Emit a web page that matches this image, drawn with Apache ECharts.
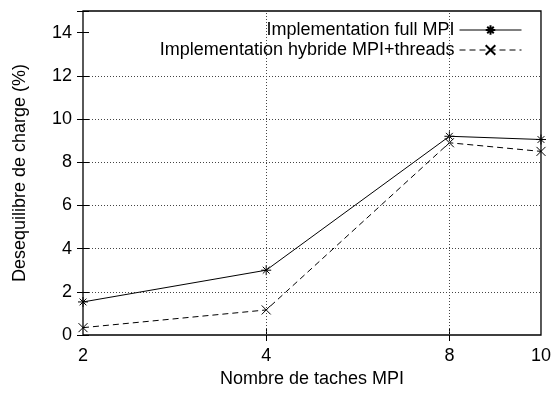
<!DOCTYPE html>
<html>
<head>
<meta charset="utf-8">
<script src="https://cdn.jsdelivr.net/npm/echarts@6/dist/echarts.min.js"></script>
<style>html,body{margin:0;padding:0;background:#fff;}#c{width:554px;height:393px;}</style>
</head>
<body>
<div id="c"></div>
<script>
// Number of MPI tasks and their position on the (non-linear) x axis
const taskLabels = ['2', '4', '8', '10'];
const taskPos = [0, 1, 2, 2.5];
const fullMPI = [1.53, 3.0, 9.2, 9.05];
const hybride = [0.34, 1.16, 8.9, 8.5];
const yTicks = [0, 2, 4, 6, 8, 10, 12, 14];
const seriesNames = ['Implementation full MPI', 'Implementation hybride MPI+threads'];

const FONT = 'Liberation Sans, Arial, Helvetica, sans-serif';
const starPath = 'path://M0 5 L10 5 M5 0 L5 10 M1.6 1.6 L8.4 8.4 M8.4 1.6 L1.6 8.4';
const crossPath = 'path://M0 0 L10 10 M10 0 L0 10';

const chart = echarts.init(document.getElementById('c'), null, {renderer: 'canvas'});

function pts(vals) { return vals.map((v, i) => [taskPos[i], v]); }
function labelFor(v) {
  const i = taskPos.indexOf(v);
  return i >= 0 ? taskLabels[i] : '';
}

const xCommon = {
  type: 'value', min: 0, max: 2.5,
  axisLine: {show: false},
  axisTick: {show: true, inside: true, length: 6, lineStyle: {color: '#000', width: 1}, customValues: taskPos.slice(1, 3)},
  splitLine: {show: false}
};
const yCommon = {
  type: 'value', min: 0, max: 15, interval: 2,
  axisLine: {show: false},
  axisTick: {show: true, inside: true, length: 6, lineStyle: {color: '#000', width: 1}}
};

chart.setOption({
  backgroundColor: '#fff',
  animation: false,
  grid: {left: 83, right: 10, top: 11, bottom: 58, show: true, borderColor: '#000', borderWidth: 1.3, containLabel: false},
  legend: {
    orient: 'vertical', right: 32, top: 21, align: 'right', padding: 0,
    itemWidth: 62, itemHeight: 12, itemGap: 2,
    lineStyle: {width: 1},
    textStyle: {fontFamily: FONT, fontSize: 18, color: '#000'},
    data: seriesNames
  },
  xAxis: [
    Object.assign({}, xCommon, {
      position: 'bottom',
      name: 'Nombre de taches MPI', nameLocation: 'middle', nameGap: 35,
      nameTextStyle: {fontFamily: FONT, fontSize: 18, color: '#000'},
      axisLabel: {show: true, margin: 12, fontFamily: FONT, fontSize: 18, color: '#000',
        customValues: taskPos, formatter: labelFor, showMinLabel: true, showMaxLabel: true}
    }),
    Object.assign({}, xCommon, {position: 'top', axisLabel: {show: false}})
  ],
  yAxis: [
    Object.assign({}, yCommon, {
      position: 'left',
      name: 'Desequilibre de charge (%)', nameLocation: 'middle', nameGap: 54, nameRotate: 90,
      nameTextStyle: {fontFamily: FONT, fontSize: 18, color: '#000'},
      axisLabel: {margin: 11, fontFamily: FONT, fontSize: 18, color: '#000',
        formatter: v => (yTicks.indexOf(v) >= 0 ? String(v) : '')},
      splitLine: {show: true, lineStyle: {color: ['transparent', '#444', '#444', '#444', '#444', '#444', '#444', 'transparent'], type: [1, 2], width: 1}}
    }),
    Object.assign({}, yCommon, {position: 'right', axisLabel: {show: false}, splitLine: {show: false}})
  ],
  series: [
    {
      name: seriesNames[0], type: 'line', data: pts(fullMPI),
      symbol: starPath, symbolSize: 10,
      itemStyle: {color: '#000', borderColor: '#000', borderWidth: 1},
      lineStyle: {color: '#000', width: 1, type: 'solid'},
      markLine: {
        silent: true, symbol: 'none', label: {show: false},
        lineStyle: {color: '#444', type: [1, 2], width: 1},
        data: taskPos.slice(1, 3).map(v => ({xAxis: v}))
      },
      z: 3
    },
    {
      name: seriesNames[1], type: 'line', data: pts(hybride),
      symbol: crossPath, symbolSize: 9,
      itemStyle: {color: '#000', borderColor: '#000', borderWidth: 1},
      lineStyle: {color: '#000', width: 1, type: [6, 4]},
      z: 3
    }
  ]
});
</script>
</body>
</html>
